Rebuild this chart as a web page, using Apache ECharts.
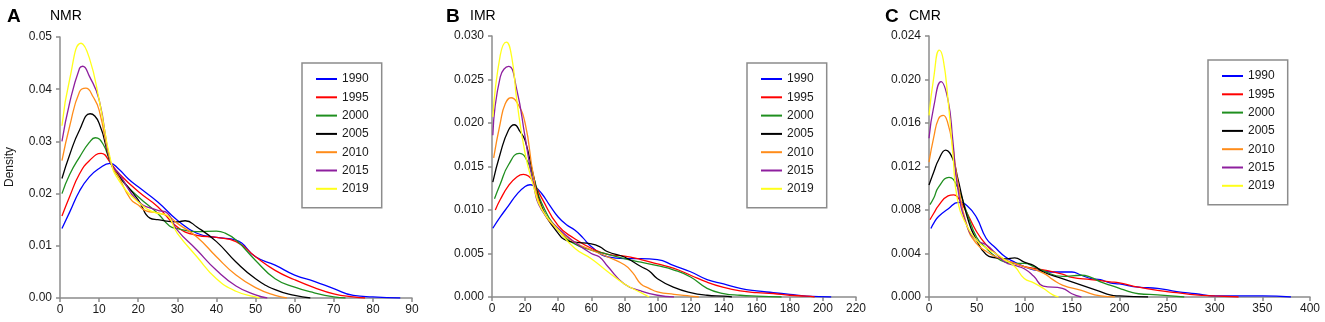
<!DOCTYPE html>
<html>
<head>
<meta charset="utf-8">
<script src="https://cdn.jsdelivr.net/npm/echarts@6/dist/echarts.min.js"></script>
<style>
    html, body { margin: 0; padding: 0; background: #fff; }
    #chart { width: 1325px; height: 322px; }
</style>
</head>
<body>
<div id="chart"></div>
<script>
var years = ['1990', '1995', '2000', '2005', '2010', '2015', '2019'];
var colors = ['#0000ff', '#ff0000', '#1f8f1f', '#000000', '#ff8c1a', '#8e1f9e', '#ffff1a'];

// NMR density curves, [x, density]
var nmr1990 = [[0.5,0.0133],[2.5,0.0165],[5,0.0205],[7.5,0.0232],[10,0.0248],[12.8,0.0258],[15,0.0247],[17.5,0.0228],[20,0.0213],[25,0.0184],[30,0.0149],[35,0.0124],[40,0.0116],[45,0.0111],[50,0.0079],[55,0.0063],[60,0.0044],[65,0.0032],[70,0.0018],[75,0.0005],[80,0.0002],[87,0]];
var nmr1995 = [[0.5,0.0157],[2.5,0.0195],[5,0.0238],[7.5,0.0263],[10.5,0.0277],[13,0.0258],[15,0.0239],[20,0.0204],[25,0.0175],[30,0.0136],[35,0.012],[40,0.0116],[45,0.0108],[50,0.0079],[55,0.0053],[60,0.0035],[65,0.002],[70,0.0008],[75,0.0002],[78,0]];
var nmr2000 = [[0.5,0.0200],[2.5,0.0237],[5,0.0270],[7.5,0.0298],[9,0.0307],[11,0.0295],[13,0.0258],[15,0.0232],[20,0.0194],[25,0.0162],[28,0.0138],[30,0.0133],[35,0.0127],[40,0.0128],[42,0.0125],[45,0.0111],[50,0.0072],[55,0.0037],[60,0.0021],[65,0.001],[70,0.0002],[73,0]];
var nmr2005 = [[0.5,0.0229],[2.5,0.0275],[5,0.0322],[7.7,0.0353],[10,0.0335],[13,0.0258],[15,0.0235],[20,0.0188],[23,0.0153],[25,0.0150],[30,0.0146],[32,0.0148],[35,0.0136],[40,0.0108],[45,0.0069],[50,0.0037],[55,0.0016],[60,0.0005],[64,0]];
var nmr2010 = [[0.5,0.0263],[2.5,0.0330],[5,0.0395],[6.6,0.0402],[8.5,0.0385],[10,0.036],[13,0.0258],[15,0.0232],[18,0.019],[20,0.0178],[22,0.0167],[25,0.0163],[28,0.0155],[30,0.0143],[35,0.0117],[40,0.0079],[45,0.0044],[50,0.002],[55,0.0005],[58,0]];
var nmr2015 = [[0.5,0.030],[2.5,0.0375],[5,0.0440],[5.8,0.0444],[7.5,0.0425],[10,0.038],[13,0.0258],[15,0.0239],[20,0.0185],[25,0.0168],[27,0.0165],[30,0.013],[35,0.0092],[40,0.0053],[45,0.0023],[50,0.0006],[53,0]];
var nmr2019 = [[0.5,0.033],[2.5,0.042],[5.4,0.0488],[7.5,0.046],[10,0.038],[13,0.0262],[15,0.0226],[20,0.0184],[25,0.0162],[27,0.016],[30,0.0124],[35,0.0079],[40,0.0037],[45,0.0013],[50,0.0002],[51,0]];

// IMR density curves
var imr1990 = [[0.5,0.0079],[5,0.0092],[10,0.0105],[15,0.0118],[20,0.0127],[23,0.0129],[25,0.0128],[30,0.0119],[35,0.0105],[40,0.0092],[45,0.0083],[50,0.0077],[55,0.0068],[60,0.0058],[70,0.0046],[80,0.0044],[90,0.0044],[100,0.0043],[110,0.0036],[120,0.0029],[130,0.002],[140,0.0015],[150,0.001],[160,0.0007],[170,0.0005],[180,0.0003],[190,0.0001],[205,0]];
var imr1995 = [[2,0.0100],[5,0.0112],[10,0.0128],[15,0.0138],[19,0.0141],[22,0.0139],[25,0.0132],[30,0.0114],[40,0.0082],[50,0.0067],[60,0.0056],[70,0.0049],[80,0.0047],[90,0.0043],[100,0.0038],[110,0.0033],[120,0.0025],[130,0.0017],[140,0.0011],[150,0.0007],[160,0.0005],[170,0.0004],[180,0.0002],[190,0.0001],[195,0]];
var imr2000 = [[1.5,0.0113],[5,0.0130],[10,0.0152],[16.5,0.0165],[20,0.0161],[25,0.0138],[30,0.0108],[40,0.0077],[50,0.0061],[60,0.0054],[70,0.0049],[80,0.0044],[90,0.004],[100,0.0036],[110,0.0031],[120,0.0023],[130,0.001],[140,0.0004],[150,0.0002],[160,0.0001],[175,0]];
var imr2005 = [[0.5,0.0132],[5,0.0165],[10,0.0192],[13.5,0.0198],[17,0.019],[20,0.018],[25,0.014],[30,0.0104],[40,0.0073],[45,0.0065],[50,0.0063],[60,0.0061],[65,0.0058],[70,0.0052],[80,0.0046],[90,0.0035],[95,0.003],[100,0.0021],[110,0.0011],[120,0.0005],[130,0.0002],[140,0.0001],[145,0]];
var imr2010 = [[1,0.016],[5,0.0200],[8,0.0222],[11.5,0.0229],[15,0.0224],[20,0.02],[25,0.014],[30,0.0102],[40,0.0077],[50,0.0063],[60,0.0054],[70,0.0046],[80,0.0037],[85,0.0028],[90,0.0015],[95,0.0010],[100,0.0006],[110,0.0003],[120,0.0001],[125,0]];
var imr2015 = [[0.5,0.0186],[5,0.0253],[10,0.0265],[15,0.0238],[20,0.0184],[25,0.013],[30,0.0100],[40,0.0079],[50,0.0063],[60,0.005],[65,0.0046],[70,0.0035],[80,0.0015],[90,0.0007],[100,0.0002],[110,0]];
var imr2019 = [[0.5,0.0207],[5,0.0278],[8.7,0.0293],[12,0.0275],[15,0.0226],[20,0.0165],[25,0.0128],[30,0.0101],[40,0.0077],[50,0.0056],[60,0.0044],[70,0.0029],[80,0.0015],[90,0.0005],[95,0]];

// CMR density curves
var cmr1990 = [[2,0.0063],[5,0.0068],[10,0.0074],[20,0.0081],[31,0.0087],[40,0.0084],[50,0.0073],[60,0.0054],[70,0.0045],[80,0.0037],[90,0.0032],[100,0.0028],[110,0.0025],[120,0.0024],[130,0.0023],[150,0.0023],[160,0.002],[170,0.0017],[180,0.0016],[190,0.0013],[200,0.0012],[220,0.0009],[240,0.0008],[260,0.0005],[280,0.0003],[300,0.0001],[350,0.0001],[380,0]];
var cmr1995 = [[1,0.0071],[5,0.0077],[10,0.0084],[20,0.0093],[26,0.0094],[30,0.0092],[40,0.0077],[50,0.006],[60,0.0048],[70,0.004],[80,0.0034],[90,0.0031],[100,0.0028],[120,0.0025],[140,0.0021],[150,0.0018],[170,0.0016],[190,0.0014],[200,0.0013],[220,0.0009],[240,0.0006],[260,0.0004],[280,0.0002],[300,0.0001],[325,0]];
var cmr2000 = [[1,0.0085],[5,0.0091],[10,0.0101],[21,0.011],[30,0.0101],[40,0.0077],[50,0.0055],[60,0.0045],[70,0.0037],[80,0.0032],[90,0.0031],[100,0.0031],[110,0.0028],[120,0.0024],[140,0.0019],[160,0.002],[170,0.0018],[180,0.0014],[190,0.0011],[200,0.0008],[210,0.0005],[220,0.0003],[240,0.0002],[268,0]];
var cmr2005 = [[0,0.0103],[5,0.0115],[10,0.0126],[17.5,0.0135],[25,0.0127],[30,0.011],[40,0.0074],[50,0.0052],[60,0.0039],[70,0.0036],[80,0.0035],[90,0.0036],[100,0.0032],[110,0.0029],[120,0.0023],[140,0.0017],[160,0.0011],[180,0.0005],[190,0.0002],[200,0.0001],[230,0]];
var cmr2010 = [[0,0.0124],[5,0.0147],[10,0.0164],[15,0.0167],[20,0.0159],[25,0.0138],[30,0.0107],[40,0.0065],[50,0.0049],[60,0.0042],[70,0.0037],[80,0.0034],[100,0.0028],[120,0.0022],[130,0.0016],[140,0.0011],[160,0.0006],[180,0.0001],[195,0]];
var cmr2015 = [[0,0.0146],[5,0.0175],[12.6,0.0198],[20,0.0181],[25,0.0144],[30,0.0101],[40,0.0065],[50,0.0052],[60,0.0048],[70,0.004],[80,0.0032],[90,0.0029],[100,0.0026],[110,0.0019],[120,0.001],[140,0.0008],[150,0.0003],[160,0]];
var cmr2019 = [[0,0.0167],[5,0.0202],[10.8,0.0227],[15,0.0218],[20,0.0181],[25,0.0132],[30,0.0089],[40,0.0065],[50,0.0052],[60,0.0045],[70,0.004],[80,0.0034],[90,0.0028],[100,0.0017],[110,0.0013],[120,0.0008],[130,0.0002],[136,0]];

var nmrData = [nmr1990, nmr1995, nmr2000, nmr2005, nmr2010, nmr2015, nmr2019];
var imrData = [imr1990, imr1995, imr2000, imr2005, imr2010, imr2015, imr2019];
var cmrData = [cmr1990, cmr1995, cmr2000, cmr2005, cmr2010, cmr2015, cmr2019];

// axis ranges / ticks
var xMax = [90, 220, 400];
var xStep = [10, 20, 50];
var yMax = [0.05, 0.03, 0.024];
var yStep = [0.01, 0.005, 0.004];
var yDigits = [2, 3, 3];

var myChart = echarts.init(document.getElementById('chart'));

var grids = [
    { left: 60, top: 37, width: 352, height: 261 },
    { left: 492, top: 36, width: 364, height: 261 },
    { left: 929, top: 36, width: 381, height: 261 }
];
var legendPos = [
    { left: 302, top: 63 },
    { left: 747, top: 63 },
    { left: 1208, top: 60 }
];

var axisColor = '#8c8c8c';
var labelStyle = { color: '#1a1a1a', fontSize: 12, fontFamily: 'Liberation Sans, Arial' };

var xAxes = [], yAxes = [], series = [], legends = [];
[nmrData, imrData, cmrData].forEach(function (panel, p) {
    xAxes.push({
        type: 'value', gridIndex: p, min: 0, max: xMax[p], interval: xStep[p],
        axisLine: { lineStyle: { color: axisColor, width: 1.5 } },
        axisTick: { length: 4, lineStyle: { color: axisColor, width: 1.5 } },
        axisLabel: Object.assign({ margin: 6 }, labelStyle),
        splitLine: { show: false }
    });
    yAxes.push({
        type: 'value', gridIndex: p, min: 0, max: yMax[p], interval: yStep[p],
        axisLine: { show: true, lineStyle: { color: axisColor, width: 1.5 } },
        axisTick: { show: true, length: 4, lineStyle: { color: axisColor, width: 1.5 } },
        axisLabel: Object.assign({
            margin: 8,
            formatter: function (v) { return v.toFixed(yDigits[p]); }
        }, labelStyle),
        splitLine: { show: false }
    });
    panel.forEach(function (d, i) {
        series.push({
            name: years[i],
            type: 'line',
            xAxisIndex: p,
            yAxisIndex: p,
            data: d,
            smooth: 0.5,
            symbol: 'none',
            lineStyle: { color: colors[i], width: 1.3 },
            itemStyle: { color: colors[i] }
        });
    });
    legends.push({
        data: years,
        left: legendPos[p].left,
        top: legendPos[p].top,
        orient: 'vertical',
        width: 80,
        padding: [9, 13, 12, 14],
        itemGap: 4.3,
        itemWidth: 21,
        itemHeight: 2,
        icon: 'rect',
        borderColor: '#8c8c8c',
        borderWidth: 1.5,
        textStyle: { color: '#1a1a1a', fontSize: 12, lineHeight: 14, fontFamily: 'Liberation Sans, Arial' }
    });
});

var option = {
    animation: false,
    backgroundColor: '#fff',
    color: colors,
    title: [
        { text: 'A', left: 2, top: 2, textStyle: { fontSize: 19, fontWeight: 'bold', color: '#000', fontFamily: 'Liberation Sans, Arial' } },
        { text: 'NMR', left: 45, top: 4, textStyle: { fontSize: 14, fontWeight: 'normal', color: '#000', fontFamily: 'Liberation Sans, Arial' } },
        { text: 'B', left: 441, top: 2, textStyle: { fontSize: 19, fontWeight: 'bold', color: '#000', fontFamily: 'Liberation Sans, Arial' } },
        { text: 'IMR', left: 465, top: 4, textStyle: { fontSize: 14, fontWeight: 'normal', color: '#000', fontFamily: 'Liberation Sans, Arial' } },
        { text: 'C', left: 880, top: 2, textStyle: { fontSize: 19, fontWeight: 'bold', color: '#000', fontFamily: 'Liberation Sans, Arial' } },
        { text: 'CMR', left: 904, top: 4, textStyle: { fontSize: 14, fontWeight: 'normal', color: '#000', fontFamily: 'Liberation Sans, Arial' } }
    ],
    graphic: [{
        type: 'text',
        x: 10,
        y: 167,
        rotation: Math.PI / 2,
        style: {
            text: 'Density',
            fill: '#1a1a1a',
            font: '12px Liberation Sans, Arial',
            textAlign: 'center',
            textVerticalAlign: 'middle'
        }
    }],
    legend: legends,
    grid: grids,
    xAxis: xAxes,
    yAxis: yAxes,
    series: series
};

myChart.setOption(option);
</script>
</body>
</html>
